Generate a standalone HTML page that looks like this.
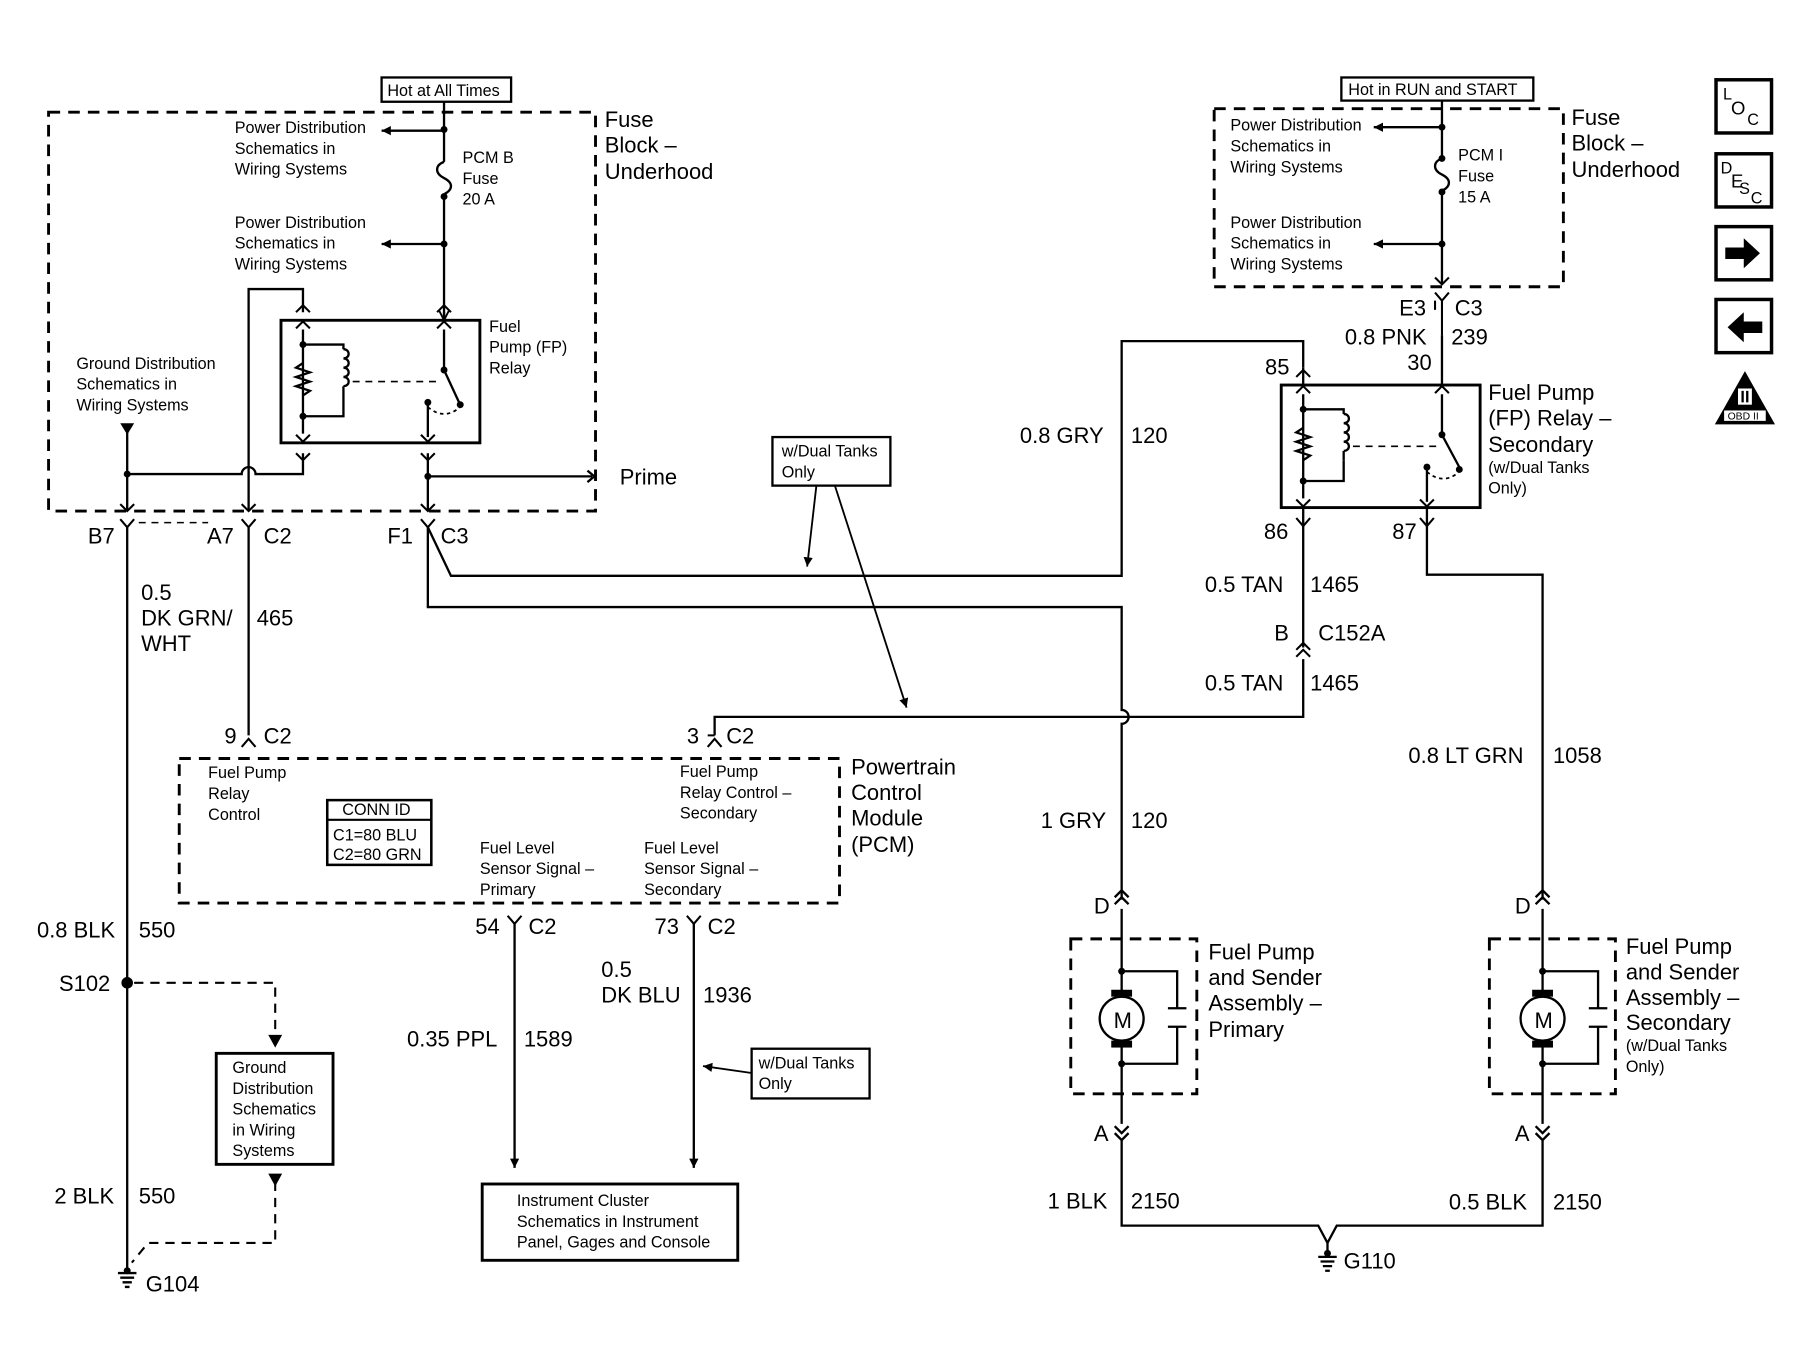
<!DOCTYPE html>
<html><head><meta charset="utf-8"><style>
html,body{margin:0;padding:0;background:#fff}
svg{display:block}
text{font-family:"Liberation Sans",sans-serif;fill:#000}
.s{font-size:14px}.m{font-size:16px}.l{font-size:19px}
</style></head><body>
<svg width="1812" height="1369" viewBox="0 0 1567 1184" preserveAspectRatio="none" xmlns="http://www.w3.org/2000/svg">
<defs>
<marker id="a" viewBox="0 0 10 10" refX="10" refY="5" markerWidth="8" markerHeight="8" orient="auto-start-reverse" markerUnits="userSpaceOnUse"><path d="M0,0 L10,5 L0,10 z"/></marker>
<marker id="o" viewBox="0 0 10 10" refX="9" refY="5" markerWidth="10" markerHeight="10" orient="auto" markerUnits="userSpaceOnUse"><path d="M1,1 L9,5 L1,9" fill="none" stroke="#000" stroke-width="1.6"/></marker>
</defs>
<g fill="none" stroke="#000" stroke-width="2">
<!-- left fuse block -->
<rect x="42" y="97" width="473" height="345" stroke-dasharray="10,7" stroke-width="2.5"/>
<rect x="330" y="67" width="112" height="21" stroke-width="2"/>
<path d="M384 88 V140 M384 168 V277" />
<path d="M384 140 c-8 3 -8 10 0 14 c8 4 8 10 0 14"/>
<path d="M384 113 H330" marker-end="url(#a)"/>
<path d="M384 211 H330" marker-end="url(#a)"/>
<path d="M384 270 V277" marker-end="url(#o)"/>
<rect x="243" y="277" width="172" height="106" stroke-width="2.5"/>
<path d="M262 285 V375"/>
<path d="M262 298 H297 V302 M297 342 V360 H262"/>
<path d="M297 302 c6 0 6 8 0 8 c6 0 6 8 0 8 c6 0 6 8 0 8 c6 0 6 8 0 8 M297 342 v-8"/>
<path d="M262 314 l-6 4 l12 4 l-12 4 l12 4 l-12 4 l12 4 l-6 4" fill="none"/>
<path d="M305 330 H378" stroke-dasharray="6,5" stroke-width="1.5"/>
<path d="M384 285 V320 L397 348"/>
<path d="M370 348 V378"/>
<path d="M370 352 q14 12 28 0" stroke-dasharray="3,3" stroke-width="1.5"/>
<path d="M215 442 V250 H262 V270"/>
<path d="M262 392 V410 H221 a6 6 0 0 0 -12 0 H110"/>
<path d="M110 372 V442"/>
<path d="M370 392 V442"/>
<path d="M370 412 H512"/>
<path d="M508 407 l6 5 l-6 5" />
</g>
<g stroke="#000" stroke-width="1.8" fill="none">
<path d="M256 284 l6 -6 l6 6 M256 376 l6 6 l6 -6 M378 284 l6 -6 l6 6 M364 376 l6 6 l6 -6 M256 392 l6 6 l6 -6 M364 392 l6 6 l6 -6 M256 270 l6 -6 l6 6 M378 270 l6 -6 l6 6"/>
<path d="M104 436 l6 6 l6 -6 M209 436 l6 6 l6 -6 M364 436 l6 6 l6 -6"/>
</g>
<g fill="#000"><circle cx="384" cy="112" r="3"/><circle cx="384" cy="170" r="3"/><circle cx="384" cy="211" r="3"/><circle cx="262" cy="298" r="3"/><circle cx="262" cy="360" r="3"/><circle cx="384" cy="320" r="3"/><circle cx="398" cy="350" r="3"/><circle cx="370" cy="348" r="3"/><circle cx="370" cy="412" r="3"/><circle cx="110" cy="410" r="3"/>
<path d="M104 366 h12 l-6 10 z"/></g>
<text x="335" y="83" class="s">Hot at All Times</text>
<text class="s" x="203" y="115">Power Distribution</text><text class="s" x="203" y="133">Schematics in</text><text class="s" x="203" y="151">Wiring Systems</text>
<text class="s" x="203" y="197">Power Distribution</text><text class="s" x="203" y="215">Schematics in</text><text class="s" x="203" y="233">Wiring Systems</text>
<text class="s" x="400" y="141">PCM B</text><text class="s" x="400" y="159">Fuse</text><text class="s" x="400" y="177">20 A</text>
<text class="s" x="423" y="287">Fuel</text><text class="s" x="423" y="305">Pump (FP)</text><text class="s" x="423" y="323">Relay</text>
<text class="s" x="66" y="319">Ground Distribution</text><text class="s" x="66" y="337">Schematics in</text><text class="s" x="66" y="355">Wiring Systems</text>
<text class="l" x="523" y="110">Fuse</text><text class="l" x="523" y="132">Block –</text><text class="l" x="523" y="155">Underhood</text>
<text class="l" x="536" y="419">Prime</text>
<!-- connectors row -->
<g stroke="#000" stroke-width="1.8" fill="none">
<path d="M104 449 l6 7 l6 -7 M209 449 l6 7 l6 -7 M364 449 l6 7 l6 -7"/>
<path d="M120 452 H180" stroke-dasharray="6,5" stroke-width="1.4"/>
</g>
<text class="l" x="76" y="470">B7</text><text class="l" x="179" y="470">A7</text><text class="l" x="228" y="470">C2</text><text class="l" x="335" y="470">F1</text><text class="l" x="381" y="470">C3</text>
<g fill="none" stroke="#000" stroke-width="2">
<path d="M110 456 V1098"/>
<path d="M215 456 V636"/>
<path d="M370 456 L390 498 H970 V295 H1127 V318"/>
<path d="M370 456 V525 H970 V614 a6 6 0 0 1 0 12 V778"/>
<path d="M618 636 V620 H1127 V570"/>
<path d="M1127 560 V455"/>
<path d="M1234 455 V497 H1334 V778"/>
<path d="M1247 87 V246"/>
</g>
<text class="l" x="122" y="519">0.5</text><text class="l" x="122" y="541">DK GRN/</text><text class="l" x="122" y="563">WHT</text><text class="l" x="222" y="541">465</text>
<!-- w/dual tanks upper -->
<rect x="668" y="378" width="102" height="42" fill="none" stroke="#000" stroke-width="2"/>
<text class="s" x="676" y="395">w/Dual Tanks</text><text class="s" x="676" y="413">Only</text>
<path d="M706 420 L698 490" stroke="#000" stroke-width="1.6" marker-end="url(#a)"/>
<path d="M722 420 L784 612" stroke="#000" stroke-width="1.6" marker-end="url(#a)"/>
<text class="l" x="882" y="383">0.8 GRY</text><text class="l" x="978" y="383">120</text>
<!-- right fuse block -->
<g fill="none" stroke="#000" stroke-width="2">
<rect x="1050" y="94" width="302" height="154" stroke-dasharray="10,7" stroke-width="2.5"/>
<rect x="1160" y="67" width="166" height="20"/>
<path d="M1247 110 H1188" marker-end="url(#a)"/>
<path d="M1247 211 H1188" marker-end="url(#a)"/>
<rect x="1247" y="137" width="2" height="0"/>
</g>
<rect x="1240" y="138" width="14" height="28" fill="#fff"/>
<path d="M1247 137 c-8 3 -8 10 0 14 c8 4 8 10 0 14" fill="none" stroke="#000" stroke-width="2"/>
<g fill="#000"><circle cx="1247" cy="110" r="3"/><circle cx="1247" cy="137" r="3"/><circle cx="1247" cy="166" r="3"/><circle cx="1247" cy="211" r="3"/></g>
<g stroke="#000" stroke-width="1.8" fill="none">
<path d="M1241 240 l6 6 l6 -6 M1241 253 l6 7 l6 -7"/>
<path d="M1241 268 V260 M1247 260 V290" />
</g>
<text x="1166" y="82" class="s">Hot in RUN and START</text>
<text class="s" x="1064" y="113">Power Distribution</text><text class="s" x="1064" y="131">Schematics in</text><text class="s" x="1064" y="149">Wiring Systems</text>
<text class="s" x="1064" y="197">Power Distribution</text><text class="s" x="1064" y="215">Schematics in</text><text class="s" x="1064" y="233">Wiring Systems</text>
<text class="s" x="1261" y="139">PCM I</text><text class="s" x="1261" y="157">Fuse</text><text class="s" x="1261" y="175">15 A</text>
<text class="l" x="1359" y="108">Fuse</text><text class="l" x="1359" y="130">Block –</text><text class="l" x="1359" y="153">Underhood</text>
<text class="l" x="1210" y="273">E3</text><text class="l" x="1258" y="273">C3</text>
<text class="l" x="1163" y="298">0.8 PNK</text><text class="l" x="1255" y="298">239</text>
<text class="l" x="1217" y="320">30</text><text class="l" x="1094" y="324">85</text>
<!-- secondary relay -->
<g fill="none" stroke="#000" stroke-width="2">
<path d="M1247 290 V333"/>
<rect x="1108" y="333" width="172" height="106" stroke-width="2.5"/>
<path d="M1127 341 V431"/>
<path d="M1127 354 H1162 V358 M1162 398 V416 H1127"/>
<path d="M1162 358 c6 0 6 8 0 8 c6 0 6 8 0 8 c6 0 6 8 0 8 c6 0 6 8 0 8 M1162 398 v-8"/>
<path d="M1127 370 l-6 4 l12 4 l-12 4 l12 4 l-12 4 l12 4 l-6 4"/>
<path d="M1170 386 H1243" stroke-dasharray="6,5" stroke-width="1.5"/>
<path d="M1247 341 V376 L1262 404"/>
<path d="M1234 404 V434"/>
<path d="M1234 408 q14 12 28 0" stroke-dasharray="3,3" stroke-width="1.5"/>
<path d="M1127 318 V333 M1127 439 V455 M1234 439 V455"/>
</g>
<g stroke="#000" stroke-width="1.8" fill="none">
<path d="M1121 340 l6 -6 l6 6 M1121 432 l6 6 l6 -6 M1241 340 l6 -6 l6 6 M1228 432 l6 6 l6 -6 M1121 326 l6 -6 l6 6 M1121 448 l6 7 l6 -7 M1228 448 l6 7 l6 -7"/>
<path d="M1121 562 l6 -6 l6 6 M1121 568 l6 -6 l6 6"/>
</g>
<g fill="#000"><circle cx="1127" cy="354" r="3"/><circle cx="1127" cy="416" r="3"/><circle cx="1247" cy="376" r="3"/><circle cx="1262" cy="406" r="3"/><circle cx="1234" cy="404" r="3"/></g>
<text class="l" x="1287" y="346">Fuel Pump</text><text class="l" x="1287" y="368">(FP) Relay –</text><text class="l" x="1287" y="391">Secondary</text>
<text class="s" x="1287" y="409">(w/Dual Tanks</text><text class="s" x="1287" y="427">Only)</text>
<text class="l" x="1093" y="466">86</text><text class="l" x="1204" y="466">87</text>
<text class="l" x="1042" y="512">0.5 TAN</text><text class="l" x="1133" y="512">1465</text>
<text class="l" x="1102" y="554">B</text><text class="l" x="1140" y="554">C152A</text>
<text class="l" x="1042" y="597">0.5 TAN</text><text class="l" x="1133" y="597">1465</text>
<text class="l" x="1218" y="660">0.8 LT GRN</text><text class="l" x="1343" y="660">1058</text>
<text class="l" x="900" y="716">1 GRY</text><text class="l" x="978" y="716">120</text>
<!-- PCM -->
<g stroke="#000" stroke-width="1.8" fill="none">
<path d="M209 646 l6 -7 l6 7 M612 646 l6 -7 l6 7 M612 636 H618"/>
<rect x="155" y="656" width="571" height="125" stroke-dasharray="10,7" stroke-width="2.5"/>
<rect x="283" y="692" width="90" height="56" stroke-width="2.2"/>
<path d="M283 709 H373"/>
<path d="M439 792 l6 7 l6 -7 M594 792 l6 7 l6 -7"/>
<path d="M445 799 V1010" marker-end="url(#a)" stroke-width="2"/>
<path d="M600 799 V1010" marker-end="url(#a)" stroke-width="2"/>
<rect x="417" y="1024" width="221" height="66" stroke-width="2.5"/>
<rect x="650" y="907" width="102" height="43" stroke-width="2"/>
<path d="M650 928 L608 922" marker-end="url(#a)" stroke-width="1.6"/>
</g>
<text class="l" x="194" y="643">9</text><text class="l" x="228" y="643">C2</text>
<text class="l" x="594" y="643">3</text><text class="l" x="628" y="643">C2</text>
<text class="s" x="180" y="673">Fuel Pump</text><text class="s" x="180" y="691">Relay</text><text class="s" x="180" y="709">Control</text>
<text class="s" x="296" y="705">CONN ID</text><text class="s" x="288" y="727">C1=80 BLU</text><text class="s" x="288" y="744">C2=80 GRN</text>
<text class="s" x="588" y="672">Fuel Pump</text><text class="s" x="588" y="690">Relay Control –</text><text class="s" x="588" y="708">Secondary</text>
<text class="s" x="415" y="738">Fuel Level</text><text class="s" x="415" y="756">Sensor Signal –</text><text class="s" x="415" y="774">Primary</text>
<text class="s" x="557" y="738">Fuel Level</text><text class="s" x="557" y="756">Sensor Signal –</text><text class="s" x="557" y="774">Secondary</text>
<text class="l" x="736" y="670">Powertrain</text><text class="l" x="736" y="692">Control</text><text class="l" x="736" y="714">Module</text><text class="l" x="736" y="737">(PCM)</text>
<text class="l" x="411" y="808">54</text><text class="l" x="457" y="808">C2</text><text class="l" x="566" y="808">73</text><text class="l" x="612" y="808">C2</text>
<text class="l" x="520" y="845">0.5</text><text class="l" x="520" y="867">DK BLU</text><text class="l" x="608" y="867">1936</text>
<text class="l" x="352" y="905">0.35 PPL</text><text class="l" x="453" y="905">1589</text>
<text class="s" x="656" y="924">w/Dual Tanks</text><text class="s" x="656" y="942">Only</text>
<text class="s" x="447" y="1043">Instrument Cluster</text><text class="s" x="447" y="1061">Schematics in Instrument</text><text class="s" x="447" y="1079">Panel, Gages and Console</text>
<!-- left bottom -->
<text class="l" x="32" y="811">0.8 BLK</text><text class="l" x="120" y="811">550</text>
<text class="l" x="51" y="857">S102</text>
<circle cx="110" cy="850" r="5" fill="#000"/>
<g stroke="#000" stroke-width="1.8" fill="none" stroke-dasharray="8,6">
<path d="M116 850 H238 V897"/>
<path d="M238 1022 V1075 H128 L114 1092"/>
</g>
<path d="M232 895 h12 l-6 11 z M232 1015 h12 l-6 11 z" fill="#000"/>
<rect x="187" y="911" width="101" height="96" fill="none" stroke="#000" stroke-width="2.5"/>
<text class="s" x="201" y="928">Ground</text><text class="s" x="201" y="946">Distribution</text><text class="s" x="201" y="964">Schematics</text><text class="s" x="201" y="982">in Wiring</text><text class="s" x="201" y="1000">Systems</text>
<text class="l" x="47" y="1041">2 BLK</text><text class="l" x="120" y="1041">550</text>
<g stroke="#000" stroke-width="2"><path d="M102 1101 H118 M104 1105 H116 M106 1109 H114 M108 1113 H112"/></g>
<circle cx="110" cy="1099" r="3" fill="#000"/>
<text class="l" x="126" y="1117">G104</text>
<!-- motors -->
<g fill="none" stroke="#000" stroke-width="2">
<path d="M964 776 l6 -6 l6 6 M964 782 l6 -6 l6 6 M1328 776 l6 -6 l6 6 M1328 782 l6 -6 l6 6"/>
<path d="M964 974 l6 6 l6 -6 M964 980 l6 6 l6 -6 M1328 974 l6 6 l6 -6 M1328 980 l6 6 l6 -6"/>
<path d="M970 786 V862 M970 900 V972 M970 986 V1060 H1140 L1148 1075 L1156 1060 H1334 V986 M1334 972 V900 M1334 786 V862"/>
<rect x="926" y="812" width="109" height="134" stroke-dasharray="10,7" stroke-width="2.5"/>
<rect x="1288" y="812" width="109" height="134" stroke-dasharray="10,7" stroke-width="2.5"/>
<circle cx="970" cy="881" r="19"/><circle cx="1334" cy="881" r="19"/>
<path d="M970 840 H1018 V872 M1010 872 H1026 M1010 888 H1026 M1018 888 V920 H970"/>
<path d="M1334 840 H1382 V872 M1374 872 H1390 M1374 888 H1390 M1382 888 V920 H1334"/>
<path d="M1148 1075 V1083"/>
</g>
<g fill="#000">
<rect x="961" y="856" width="18" height="6"/><rect x="961" y="900" width="18" height="6"/>
<rect x="1325" y="856" width="18" height="6"/><rect x="1325" y="900" width="18" height="6"/>
<circle cx="970" cy="840" r="3"/><circle cx="970" cy="920" r="3"/><circle cx="1334" cy="840" r="3"/><circle cx="1334" cy="920" r="3"/>
<circle cx="1148" cy="1084" r="3"/>
</g>
<g stroke="#000" stroke-width="2"><path d="M1140 1087 H1156 M1142 1091 H1154 M1144 1095 H1152 M1146 1099 H1150"/></g>
<text x="963" y="889" style="font-size:19px">M</text><text x="1327" y="889" style="font-size:19px">M</text>
<text class="l" x="946" y="790">D</text><text class="l" x="1310" y="790">D</text>
<text class="l" x="946" y="987">A</text><text class="l" x="1310" y="987">A</text>
<text class="l" x="1045" y="830">Fuel Pump</text><text class="l" x="1045" y="852">and Sender</text><text class="l" x="1045" y="874">Assembly –</text><text class="l" x="1045" y="897">Primary</text>
<text class="l" x="1406" y="825">Fuel Pump</text><text class="l" x="1406" y="847">and Sender</text><text class="l" x="1406" y="869">Assembly –</text><text class="l" x="1406" y="891">Secondary</text>
<text class="s" x="1406" y="909">(w/Dual Tanks</text><text class="s" x="1406" y="927">Only)</text>
<text class="l" x="906" y="1045">1 BLK</text><text class="l" x="978" y="1045">2150</text>
<text class="l" x="1253" y="1046">0.5 BLK</text><text class="l" x="1343" y="1046">2150</text>
<text class="l" x="1162" y="1097">G110</text>
<!-- side icons -->
<g fill="none" stroke="#000" stroke-width="3">
<rect x="1484" y="69" width="48" height="46"/><rect x="1484" y="133" width="48" height="46"/>
<rect x="1484" y="196" width="48" height="46"/><rect x="1484" y="259" width="48" height="46"/>
</g>
<text x="1490" y="86" class="s">L</text><text x="1497" y="99" class="m">O</text><text x="1511" y="108" class="s">C</text>
<text x="1488" y="150" class="s">D</text><text x="1497" y="162" class="m">E</text><text x="1504" y="168" class="s">S</text><text x="1514" y="176" class="s">C</text>
<path d="M1492 214 h16 v-8 l14 13 l-14 13 v-8 h-16 z" fill="#000"/>
<path d="M1524 278 h-16 v-8 l-14 13 l14 13 v-8 h16 z" fill="#000"/>
<path d="M1509 321 L1535 367 H1483 z" fill="#000"/>
<rect x="1491" y="355" width="36" height="9" fill="#fff"/>
<text x="1494" y="363" style="font-size:9px">OBD II</text>
<rect x="1503" y="336" width="12" height="14" fill="#fff"/>
<path d="M1507 338 V348 M1511 338 V348" stroke="#000" stroke-width="2"/>
</svg>
</body></html>
